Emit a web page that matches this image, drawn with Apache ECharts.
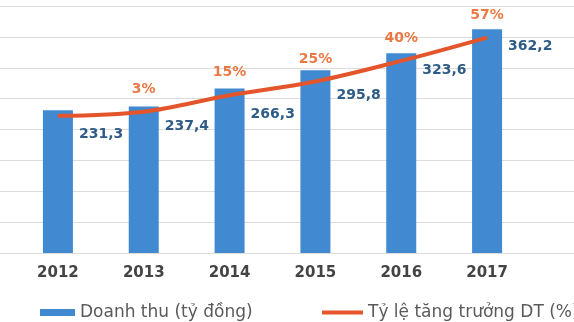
<!DOCTYPE html>
<html>
<head>
<meta charset="utf-8">
<script src="https://cdn.jsdelivr.net/npm/echarts@6/dist/echarts.min.js"></script>
<style>
  html, body { margin: 0; padding: 0; background: #ffffff; }
  #chart { width: 574px; height: 322px; }
</style>
</head>
<body>
<div id="chart"></div>
<script>
// Years on the category axis
const years = ['2012', '2013', '2014', '2015', '2016', '2017'];
// Revenue, billion VND
const revenue = [231.3, 237.4, 266.3, 295.8, 323.6, 362.2];
// Cumulative revenue growth, %
const growth = [0, 3, 15, 25, 40, 57];

const seriesNames = ['Doanh thu (tỷ đồng)', 'Tỷ lệ tăng trưởng DT (%)'];

// How far each revenue label sits below its bar top (keeps it clear of the line)
const revenueLabelDrop = [24, 20, 26, 25, 17, 17];

const FONT = 'DejaVu Sans';

const chart = echarts.init(document.getElementById('chart'), null, { renderer: 'canvas' });

const barData = revenue.map((v, i) => ({
  value: v,
  label: { position: [36, revenueLabelDrop[i]] }
}));

chart.setOption({
  animation: false,
  backgroundColor: '#ffffff',
  grid: [
    { left: 15, right: 44, top: 6, bottom: 69 },
    { left: 0, right: 0, top: 6, bottom: 69 }
  ],
  legend: [
    {
      data: [seriesNames[0]],
      left: 35, top: 299,
      icon: 'rect', itemWidth: 35, itemHeight: 7, itemGap: 6,
      textStyle: { fontFamily: FONT, fontSize: 17, color: '#5a5a5a' }
    },
    {
      data: [seriesNames[1]],
      left: 317, top: 299,
      icon: 'rect', itemWidth: 41, itemHeight: 4,
      textStyle: { fontFamily: FONT, fontSize: 17, color: '#5a5a5a' }
    }
  ],
  xAxis: [
    {
      type: 'category', gridIndex: 0, data: years,
      axisLine: { show: false }, axisTick: { show: false },
      axisLabel: { margin: 13, fontFamily: FONT, fontSize: 15, fontWeight: 'bold', color: '#444444' }
    },
    { type: 'value', gridIndex: 1, show: false, min: 0, max: 1 }
  ],
  yAxis: [
    { type: 'value', gridIndex: 0, min: 0, max: 400, interval: 50, show: false, splitLine: { show: false } },
    { type: 'value', gridIndex: 0, min: -100, max: 80, show: false, splitLine: { show: false } },
    {
      type: 'value', gridIndex: 1, min: 0, max: 400, interval: 50,
      axisLine: { show: false }, axisTick: { show: false }, axisLabel: { show: false },
      splitLine: { show: true, lineStyle: { color: '#dcdcdc', width: 1 } }
    }
  ],
  series: [
    {
      name: seriesNames[0],
      type: 'bar',
      xAxisIndex: 0, yAxisIndex: 0,
      data: barData,
      barWidth: 30,
      itemStyle: { color: '#418ad1' },
      label: {
        show: true,
        align: 'left', verticalAlign: 'middle',
        fontFamily: FONT, fontSize: 14, fontWeight: 'bold', color: '#2f5c86',
        formatter: p => String(p.value).replace('.', ',')
      },
      z: 2
    },
    {
      name: seriesNames[1],
      type: 'line',
      xAxisIndex: 0, yAxisIndex: 1,
      data: growth,
      smooth: 0.35,
      showSymbol: true,
      symbol: 'circle',
      symbolSize: 1,
      lineStyle: { color: '#e4552b', width: 4 },
      itemStyle: { color: '#e4552b' },
      label: {
        show: true, position: 'top', distance: 15,
        fontFamily: FONT, fontSize: 14, fontWeight: 'bold', color: '#ea7a45',
        formatter: p => (p.value === 0 ? '' : p.value + '%')
      },
      z: 3
    }
  ]
});
</script>
</body>
</html>
